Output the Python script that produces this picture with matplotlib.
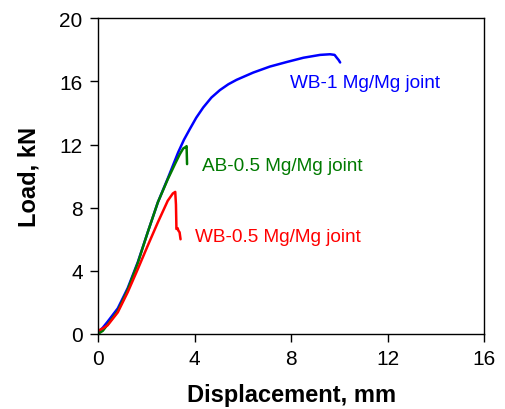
import matplotlib
matplotlib.use("Agg")
import matplotlib.pyplot as plt

plt.rcParams['font.family'] = ['Liberation Sans', 'DejaVu Sans']

# WB-1 Mg/Mg joint
wb1_x = [0.0, 0.2, 0.40, 0.82, 1.23, 1.65, 2.06, 2.48, 2.89, 3.32, 3.56, 3.80, 4.07, 4.36, 4.70, 5.05, 5.40, 5.74, 6.43, 7.12, 7.82, 8.51, 9.2, 9.61, 9.8, 9.89, 9.97, 10.03]
wb1_y = [0.1, 0.4, 0.78, 1.62, 2.9, 4.55, 6.44, 8.34, 9.85, 11.5, 12.3, 12.97, 13.7, 14.35, 14.98, 15.45, 15.82, 16.1, 16.56, 16.94, 17.23, 17.5, 17.68, 17.72, 17.68, 17.5, 17.35, 17.2]

# AB-0.5 Mg/Mg joint
ab05_x = [0.0, 0.2, 0.40, 0.82, 1.23, 1.65, 2.06, 2.48, 2.89, 3.2, 3.39, 3.53, 3.64, 3.67, 3.68, 3.69]
ab05_y = [0.0, 0.2, 0.6, 1.45, 2.8, 4.5, 6.44, 8.34, 9.8, 10.8, 11.39, 11.75, 11.85, 11.9, 11.3, 10.76]

# WB-0.5 Mg/Mg joint
wb05_x = [0.0, 0.2, 0.40, 0.82, 1.23, 1.65, 2.06, 2.48, 2.89, 3.1, 3.2, 3.23, 3.25, 3.3, 3.33, 3.38, 3.42]
wb05_y = [0.2, 0.35, 0.55, 1.37, 2.64, 4.11, 5.59, 7.07, 8.44, 8.9, 9.0, 8.2, 6.65, 6.7, 6.55, 6.44, 6.0]

labels = ["WB-1 Mg/Mg joint", "AB-0.5 Mg/Mg joint", "WB-0.5 Mg/Mg joint"]
colors = ["#0000ff", "#007a00", "#ff0000"]
label_pos = [(7.95, 15.95), (4.3, 10.65), (4.0, 6.2)]

fig = plt.figure(figsize=(5.05, 4.1), dpi=100)
ax = fig.add_axes([0.194, 0.183, 0.765, 0.77])

for xs, ys, c in zip([wb1_x, ab05_x, wb05_x], [wb1_y, ab05_y, wb05_y], colors):
    ax.plot(xs, ys, color=c, lw=1.8, solid_joinstyle='round', solid_capstyle='round')

for lab, (lx, ly), c in zip(labels, label_pos, colors):
    ax.text(lx, ly, lab, color=c, fontsize=13.7, ha='left', va='center')

ax.set_xlim(0, 16)
ax.set_ylim(0, 20)
ax.set_xticks([0, 4, 8, 12, 16])
ax.set_yticks([0, 4, 8, 12, 16, 20])
ax.tick_params(direction='out', length=6, width=1, labelsize=15, top=False, right=False)
ax.tick_params(axis='x', pad=5)
ax.tick_params(axis='y', pad=5)
for s in ax.spines.values():
    s.set_linewidth(1)
ax.set_xlabel("Displacement, mm", fontsize=17, fontweight='bold')
ax.set_ylabel("Load, kN", fontsize=17, fontweight='bold')
ax.xaxis.set_label_coords(0.5, -0.155)
ax.yaxis.set_label_coords(-0.15, 0.5)

fig.savefig("out.png", dpi=100)
